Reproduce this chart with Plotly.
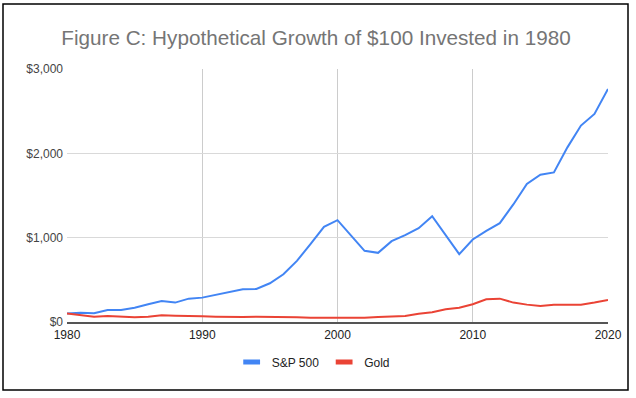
import plotly.graph_objects as go

years = list(range(1980, 2021))
sp500 = [100, 111, 103, 143, 143, 170, 210, 250, 230, 277,
         289, 325, 356, 388, 392, 459, 566, 725, 923, 1129,
         1208, 1022, 844, 820, 958, 1030, 1113, 1255, 1030, 804,
         978, 1081, 1172, 1394, 1636, 1747, 1774, 2071, 2329, 2467,
         2764]
gold = [100, 79, 63, 71, 63, 55, 63, 79, 75, 67,
        67, 63, 59, 59, 63, 63, 63, 55, 51, 51,
        48, 48, 51, 59, 67, 71, 99, 115, 150, 170,
        210, 269, 277, 230, 206, 190, 206, 206, 206, 230,
        261]
series_names = ["S&P 500", "Gold"]
colors = ["#4285F4", "#EA4335"]
y_ticks = [0, 1000, 2000, 3000]
y_tick_labels = ["$0", "$1,000", "$2,000", "$3,000"]
x_ticks = [1980, 1990, 2000, 2010, 2020]
title_text = "Figure C: Hypothetical Growth of $100 Invested in 1980"

FONT = "Liberation Sans, Arial, sans-serif"

fig = go.Figure()
for name, vals, col in zip(series_names, [sp500, gold], colors):
    fig.add_trace(go.Scatter(x=years, y=vals, mode="lines", name=name,
                             line=dict(color=col, width=2), showlegend=False))
for name, col in zip(series_names, colors):
    fig.add_trace(go.Scatter(x=[None], y=[None], mode="markers", name=name,
                             marker=dict(symbol="line-ew", size=12,
                                         line=dict(color=col, width=5))))

fig.update_layout(
    width=636, height=398,
    margin=dict(l=67, r=28, t=69, b=76, autoexpand=False),
    paper_bgcolor="white", plot_bgcolor="white",
    font=dict(family=FONT, size=12, color="#444444"),
    title=dict(text=title_text, x=316 / 636, xanchor="center", xref="container",
               y=1 - 38 / 398, yanchor="middle", yref="container",
               font=dict(family=FONT, size=20.7, color="#757575")),
    legend=dict(orientation="h", x=0.455, xanchor="center", y=-0.158, yanchor="middle",
                font=dict(size=12, color="#222222"), itemwidth=30,
                bgcolor="rgba(0,0,0,0)"),
    xaxis=dict(range=[1980, 2020], tickvals=x_ticks, ticktext=[str(v) for v in x_ticks],
               showgrid=True, gridcolor="#cccccc", gridwidth=1, automargin=False,
               showline=True, linecolor="#555555", linewidth=1.5,
               zeroline=False, ticks="", ticklabelstandoff=1,
               tickfont=dict(size=12, color="#222222")),
    yaxis=dict(range=[0, 3000], tickvals=y_ticks, ticktext=y_tick_labels,
               showgrid=True, gridcolor="#d9d9d9", gridwidth=1, automargin=False,
               zeroline=False, showline=False, ticks="", ticklabelstandoff=3,
               tickfont=dict(size=12, color="#444444")),
    shapes=[dict(type="rect", xref="paper", yref="paper",
                 x0=(3 - 67) / 541, x1=(628 - 67) / 541,
                 y0=(322 - 390) / 253, y1=(322 - 4) / 253,
                 line=dict(color="black", width=1.5), fillcolor="rgba(0,0,0,0)",
                 layer="above")],
)

fig.write_html("out.html", config={"displayModeBar": False},
               post_script="document.body.style.margin='0';document.body.style.padding='0';")
